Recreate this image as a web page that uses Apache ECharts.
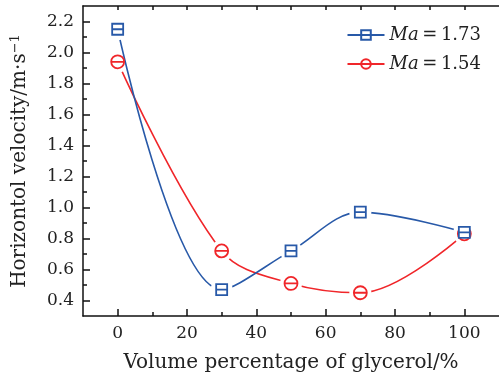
<!DOCTYPE html>
<html>
<head>
<meta charset="utf-8">
<script src="https://cdn.jsdelivr.net/npm/echarts@6/dist/echarts.min.js"></script>
<style>
  html, body { margin: 0; padding: 0; background: #fff; }
  #chart { width: 499px; height: 379px; }
</style>
</head>
<body>
<div id="chart"></div>
<script>
// 数据
const glycerol = [0, 30, 50, 70, 100];
const ma173 = [2.15, 0.47, 0.72, 0.97, 0.84];
const ma154 = [1.94, 0.72, 0.51, 0.45, 0.83];
const xMajor = [0, 20, 40, 60, 80, 100];
const xMinor = [10, 30, 50, 70, 90];
const yMajor = [0.4, 0.6, 0.8, 1.0, 1.2, 1.4, 1.6, 1.8, 2.0, 2.2];
const yMinor = [0.5, 0.7, 0.9, 1.1, 1.3, 1.5, 1.7, 1.9, 2.1];

const BLUE = "#2859a8";
const RED = "#f0262a";
const FONT = "DejaVu Serif";
const SMOOTH = 0.35;

const SQUARE = "path://M1,1L19,1L19,19L1,19Z M1,10L19,10";
const CIRCLE = "path://M10,1A9,9 0 1,1 9.99,1Z M1,10L19,10";

const pairs = (ys) => glycerol.map((x, i) => [x, ys[i]]);

const chart = echarts.init(document.getElementById("chart"));

const baseX = {
  type: "value",
  min: -10,
  max: 110,
  splitLine: { show: false },
};
const baseY = {
  type: "value",
  min: 0.3,
  max: 2.3,
  splitLine: { show: false },
};
const tickStyle = { color: "#111", width: 1.5 };

// 线 + 点周围留白
const lineSeries = (name, ys, color, symbol, size, z) => [
  {
    name: name,
    type: "line",
    data: pairs(ys),
    smooth: SMOOTH,
    symbol: symbol,
    symbolSize: size,
    showSymbol: false,
    lineStyle: { color: color, width: 1.6 },
    itemStyle: { color: "#fff", borderColor: color, borderWidth: 1.8 },
    z: z,
  },
  {
    name: name + "-gap",
    type: "scatter",
    data: pairs(ys),
    symbol: "circle",
    symbolSize: 22,
    itemStyle: { color: "#fff", opacity: 1 },
    silent: true,
    z: z,
  },
];
const markSeries = (name, ys, color, symbol, size, z) => ({
  name: name + "-mk",
  type: "scatter",
  data: pairs(ys),
  symbol: symbol,
  symbolSize: size,
  itemStyle: { color: "#fff", borderColor: color, borderWidth: 1.8, opacity: 1 },
  z: z,
});

const option = {
  animation: false,
  grid: { left: 83, top: 6, right: -3, bottom: 63 },
  legend: {
    data: ["Ma=1.73", "Ma=1.54"],
    orient: "vertical",
    right: 13,
    top: 21,
    itemWidth: 37,
    itemHeight: 12,
    itemGap: 11,
    formatter: (name) => "{i|Ma}{n|\u2009=\u2009" + name.split("=")[1] + "}",
    textStyle: {
      rich: {
        i: { fontFamily: FONT, fontStyle: "italic", fontSize: 18, color: "#222" },
        n: { fontFamily: FONT, fontSize: 18, color: "#222" },
      },
    },
  },
  xAxis: [
    {
      ...baseX,
      position: "bottom",
      name: "Volume percentage of glycerol/%",
      nameLocation: "middle",
      nameGap: 37,
      nameTextStyle: { fontFamily: FONT, fontSize: 20, color: "#222" },
      axisLine: { onZero: false, lineStyle: tickStyle },
      axisTick: { inside: true, length: 7, customValues: xMajor, lineStyle: tickStyle },
      axisLabel: { customValues: xMajor, margin: 9, fontFamily: FONT, fontSize: 17, color: "#222" },
    },
    {
      ...baseX,
      position: "bottom",
      axisLine: { show: false, onZero: false },
      axisTick: { inside: true, length: 4, customValues: xMinor, lineStyle: tickStyle },
      axisLabel: { show: false },
    },
    {
      ...baseX,
      position: "top",
      axisLine: { onZero: false, lineStyle: tickStyle },
      axisTick: { inside: true, length: 4, customValues: xMajor.concat(xMinor), lineStyle: tickStyle },
      axisLabel: { show: false },
    },
  ],
  yAxis: [
    {
      ...baseY,
      position: "left",
      name: "Horizontol velocity/m\u00b7s{sup|\u22121}",
      nameLocation: "middle",
      nameGap: 52,
      nameRotate: 90,
      nameTextStyle: {
        fontFamily: FONT,
        fontSize: 20,
        color: "#222",
        rich: { sup: { fontFamily: FONT, fontSize: 13, color: "#222", verticalAlign: "top", padding: [0, 0, 9, 0] } },
      },
      axisLine: { onZero: false, lineStyle: tickStyle },
      axisTick: { inside: true, length: 7, customValues: yMajor, lineStyle: tickStyle },
      axisLabel: {
        customValues: yMajor,
        margin: 9,
        formatter: (v) => v.toFixed(1),
        fontFamily: FONT,
        fontSize: 17,
        color: "#222",
      },
    },
    {
      ...baseY,
      position: "left",
      axisLine: { show: false, onZero: false },
      axisTick: { inside: true, length: 4, customValues: yMinor, lineStyle: tickStyle },
      axisLabel: { show: false },
    },
  ],
  series: [
    ...lineSeries("Ma=1.54", ma154, RED, CIRCLE, 13, 2),
    ...lineSeries("Ma=1.73", ma173, BLUE, SQUARE, 11, 3),
    markSeries("Ma=1.54", ma154, RED, CIRCLE, 13, 4),
    markSeries("Ma=1.73", ma173, BLUE, SQUARE, 11, 5),
  ],
};

chart.setOption(option);
</script>
</body>
</html>
